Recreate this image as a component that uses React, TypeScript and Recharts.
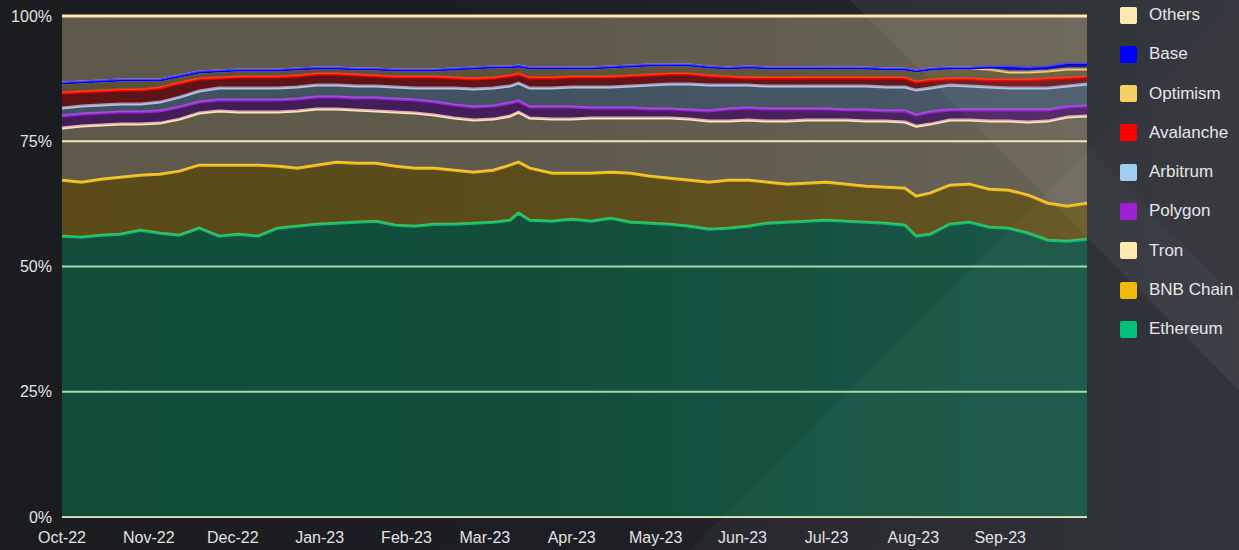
import { AreaChart, Area, XAxis, YAxis, CartesianGrid } from 'recharts'

// sample dates (roughly weekly, plus a few extra around the Mar and Aug moves)
const dates = [
  '2022-10-01', '2022-10-08', '2022-10-15', '2022-10-22', '2022-10-29', '2022-11-05', '2022-11-12',
  '2022-11-19', '2022-11-26', '2022-12-03', '2022-12-10', '2022-12-17', '2022-12-24', '2022-12-31',
  '2023-01-07', '2023-01-14', '2023-01-21', '2023-01-28', '2023-02-04', '2023-02-11', '2023-02-18',
  '2023-02-25', '2023-03-04', '2023-03-10', '2023-03-13', '2023-03-17', '2023-03-25', '2023-04-01',
  '2023-04-08', '2023-04-15', '2023-04-22', '2023-04-29', '2023-05-06', '2023-05-13', '2023-05-20',
  '2023-05-27', '2023-06-03', '2023-06-10', '2023-06-17', '2023-06-24', '2023-07-01', '2023-07-08',
  '2023-07-15', '2023-07-22', '2023-07-29', '2023-08-02', '2023-08-07', '2023-08-14', '2023-08-21',
  '2023-08-28', '2023-09-04', '2023-09-11', '2023-09-18', '2023-09-25', '2023-10-02',
]

// shares in % (bottom of stack first)
const ethereum = [
  56.1, 55.9, 56.3, 56.5, 57.3, 56.7, 56.3, 57.7, 56.1, 56.5, 56.1, 57.7, 58.1, 58.5,
  58.7, 58.9, 59.1, 58.3, 58.1, 58.5, 58.5, 58.7, 58.9, 59.3, 60.7, 59.3, 59.1, 59.5,
  59.1, 59.7, 58.9, 58.7, 58.5, 58.1, 57.5, 57.7, 58.1, 58.7, 58.9, 59.1, 59.3, 59.1,
  58.9, 58.7, 58.3, 56.1, 56.5, 58.5, 58.9, 57.9, 57.7, 56.7, 55.3, 55.1, 55.5,
]
const bnbChain = [
  11.2, 11.0, 11.2, 11.4, 11.0, 11.8, 12.8, 12.6, 14.2, 13.8, 14.2, 12.4, 11.6, 11.8,
  12.2, 11.8, 11.6, 11.8, 11.6, 11.2, 10.8, 10.2, 10.4, 11.0, 10.2, 10.4, 9.6, 9.2,
  9.6, 9.2, 9.8, 9.4, 9.2, 9.2, 9.4, 9.6, 9.2, 8.2, 7.6, 7.6, 7.6, 7.4,
  7.2, 7.2, 7.4, 8.0, 8.2, 7.8, 7.6, 7.6, 7.6, 7.6, 7.4, 7.0, 7.2,
]
const tron = [
  10.4, 11.2, 10.8, 10.6, 10.2, 10.2, 10.4, 10.4, 10.8, 10.6, 10.6, 10.8, 11.4, 11.2,
  10.6, 10.6, 10.4, 10.8, 11.0, 10.6, 10.4, 10.4, 10.2, 9.8, 10.0, 10.0, 10.8, 10.8,
  11.0, 10.8, 11.0, 11.6, 12.0, 12.2, 12.2, 11.8, 12.0, 12.2, 12.6, 12.6, 12.4, 12.8,
  13.0, 13.2, 13.2, 14.0, 13.8, 13.0, 12.8, 13.6, 13.8, 14.6, 16.4, 17.8, 17.4,
]
const polygon = [
  2.4, 2.4, 2.4, 2.4, 2.4, 2.4, 2.4, 2.2, 2.2, 2.4, 2.4, 2.4, 2.4, 2.4,
  2.4, 2.4, 2.6, 2.6, 2.6, 2.6, 2.6, 2.6, 2.6, 2.6, 2.2, 2.2, 2.4, 2.4,
  2.0, 2.0, 2.0, 1.8, 1.8, 1.8, 2.0, 2.4, 2.4, 2.4, 2.4, 2.2, 2.2, 2.0,
  2.2, 2.0, 2.2, 2.2, 2.4, 2.0, 2.0, 2.2, 2.2, 2.4, 2.2, 2.0, 2.0,
]
const arbitrum = [
  1.6, 1.6, 1.6, 1.6, 1.6, 1.8, 2.0, 2.2, 2.4, 2.4, 2.4, 2.4, 2.4, 2.4,
  2.4, 2.4, 2.4, 2.4, 2.4, 2.8, 3.4, 3.6, 3.6, 3.4, 3.6, 3.8, 3.8, 4.0,
  4.2, 4.2, 4.4, 4.8, 5.0, 5.2, 5.2, 4.8, 4.6, 4.6, 4.6, 4.6, 4.6, 4.8,
  4.8, 4.8, 4.8, 5.0, 4.8, 5.0, 4.8, 4.6, 4.4, 4.4, 4.4, 4.2, 4.4,
]
const avalanche = [
  3.0, 2.8, 2.8, 2.8, 2.8, 2.8, 2.8, 2.4, 2.0, 2.2, 2.2, 2.2, 2.2, 2.2,
  2.2, 2.2, 2.0, 2.0, 2.2, 2.2, 2.0, 2.0, 2.0, 2.0, 1.8, 2.0, 2.0, 2.0,
  2.0, 2.0, 2.0, 2.0, 2.0, 2.0, 1.8, 1.6, 1.4, 1.6, 1.6, 1.6, 1.6, 1.6,
  1.6, 1.8, 1.8, 1.6, 1.6, 1.2, 1.4, 1.4, 1.6, 1.6, 1.8, 1.6, 1.4,
]
const optimism = [
  2.0, 2.0, 2.0, 2.0, 2.0, 1.6, 1.4, 1.4, 1.4, 1.4, 1.4, 1.4, 1.4, 1.2,
  1.2, 1.2, 1.4, 1.4, 1.4, 1.4, 1.8, 2.2, 2.2, 1.8, 1.6, 2.0, 2.0, 1.8,
  1.8, 2.0, 2.0, 2.0, 1.8, 1.8, 1.8, 1.8, 2.2, 2.0, 2.0, 2.0, 2.0, 2.0,
  2.0, 1.8, 1.8, 2.2, 2.2, 2.2, 2.2, 2.2, 1.6, 1.6, 1.6, 1.8, 1.6,
]
const base = [
  0, 0, 0, 0, 0, 0, 0, 0, 0, 0, 0, 0, 0, 0,
  0, 0, 0, 0, 0, 0, 0, 0, 0, 0, 0, 0, 0, 0,
  0, 0, 0, 0, 0, 0, 0, 0, 0, 0, 0, 0, 0, 0,
  0, 0, 0, 0, 0, 0, 0, 0.4, 1.0, 0.8, 0.8, 1.0, 1.0,
]
const others = [
  13.4, 13.2, 13.0, 12.8, 12.8, 12.8, 12.0, 11.2, 11.0, 10.8, 10.8, 10.8, 10.6, 10.4,
  10.4, 10.6, 10.6, 10.8, 10.8, 10.8, 10.6, 10.4, 10.2, 10.2, 10.0, 10.4, 10.4, 10.4,
  10.4, 10.2, 10.0, 9.8, 9.8, 9.8, 10.2, 10.4, 10.2, 10.4, 10.4, 10.4, 10.4, 10.4,
  10.4, 10.6, 10.6, 11.0, 10.6, 10.4, 10.4, 10.2, 10.2, 10.4, 10.2, 9.6, 9.6,
]

const monthStarts = [
  '2022-10-01', '2022-11-01', '2022-12-01', '2023-01-01', '2023-02-01', '2023-03-01',
  '2023-04-01', '2023-05-01', '2023-06-01', '2023-07-01', '2023-08-01', '2023-09-01',
]
const monthLabels = [
  'Oct-22', 'Nov-22', 'Dec-22', 'Jan-23', 'Feb-23', 'Mar-23',
  'Apr-23', 'May-23', 'Jun-23', 'Jul-23', 'Aug-23', 'Sep-23',
]
const yTicks = [0, 0.25, 0.5, 0.75, 1]

const series = [
  { key: 'ethereum', name: 'Ethereum', color: '#00c07a', values: ethereum },
  { key: 'bnb', name: 'BNB Chain', color: '#f0b90b', values: bnbChain },
  { key: 'tron', name: 'Tron', color: '#fde8b0', values: tron },
  { key: 'polygon', name: 'Polygon', color: '#a020d8', values: polygon },
  { key: 'arbitrum', name: 'Arbitrum', color: '#a0cdf0', values: arbitrum },
  { key: 'avalanche', name: 'Avalanche', color: '#ff0000', values: avalanche },
  { key: 'optimism', name: 'Optimism', color: '#f5d060', values: optimism },
  { key: 'base', name: 'Base', color: '#0000ff', values: base },
  { key: 'others', name: 'Others', color: '#fde8b0', values: others },
]

function dayIndex(s: string) {
  const [y, m, d] = s.split('-').map(Number)
  return Math.round((Date.UTC(y, m - 1, d) - Date.UTC(2022, 9, 1)) / 86400000)
}

const data = dates.map((d, i) => {
  const row: Record<string, number> = { day: dayIndex(d) }
  series.forEach((s) => { row[s.key] = s.values[i] })
  return row
})

const monthTicks = monthStarts.map(dayIndex)

const tickStyle = { fill: '#e2e2e2', fontSize: 16 }

export default function App() {
  return (
    <div style={{
      position: 'absolute', left: 0, top: 0, width: 1239, height: 550, overflow: 'hidden',
      background: 'linear-gradient(90deg, #1a1c20 0%, #1c1e23 45%, #24262c 75%, #2c2e35 100%)',
      fontFamily: '"Liberation Sans", Arial, sans-serif',
    }}>
      {/* faint diagonal background pattern */}
      <svg width={1239} height={550} style={{ position: 'absolute', left: 0, top: 0 }}>
        <polygon points="690,550 1239,0 1239,550" fill="#ffffff" opacity={0.035} />
        <polygon points="850,0 1239,0 1239,390" fill="#ffffff" opacity={0.05} />
        <polygon points="1090,150 1239,0 1239,300" fill="#000000" opacity={0.08} />
      </svg>

      <div style={{ position: 'absolute', left: 0, top: 0 }}>
        <AreaChart
          width={1100}
          height={550}
          data={data}
          stackOffset="expand"
          margin={{ top: 16, right: 13, left: 0, bottom: 0 }}
        >
          <CartesianGrid vertical={false} stroke="#efe3bd" strokeWidth={2} />
          <XAxis
            dataKey="day"
            type="number"
            domain={[0, 366]}
            ticks={monthTicks}
            tickFormatter={(v: number) => monthLabels[monthTicks.indexOf(v)] ?? ''}
            tick={tickStyle}
            tickLine={false}
            axisLine={false}
            tickMargin={9}
            height={33}
            interval={0}
          />
          <YAxis
            type="number"
            domain={[0, 1]}
            ticks={yTicks}
            tickFormatter={(v: number) => `${Math.round(v * 100)}%`}
            tick={tickStyle}
            tickLine={false}
            axisLine={false}
            tickMargin={4}
            width={62}
          />
          {series.map((s) => (
            <Area
              key={s.key}
              type="linear"
              dataKey={s.key}
              name={s.name}
              stackId="1"
              stroke={s.color}
              strokeWidth={3}
              fill={s.color}
              fillOpacity={0.3}
              isAnimationActive={false}
            />
          ))}
        </AreaChart>
      </div>

      {/* legend, top of stack first */}
      <div style={{ position: 'absolute', left: 1120, top: 6, display: 'flex', flexDirection: 'column', gap: 21.3 }}>
        {[...series].reverse().map((s) => (
          <div key={s.key} style={{ display: 'flex', alignItems: 'center', height: 18 }}>
            <div style={{ width: 17, height: 17, background: s.color, borderRadius: 2 }} />
            <span style={{ marginLeft: 12, fontSize: 17, color: '#e6e6e6' }}>{s.name}</span>
          </div>
        ))}
      </div>
    </div>
  )
}
